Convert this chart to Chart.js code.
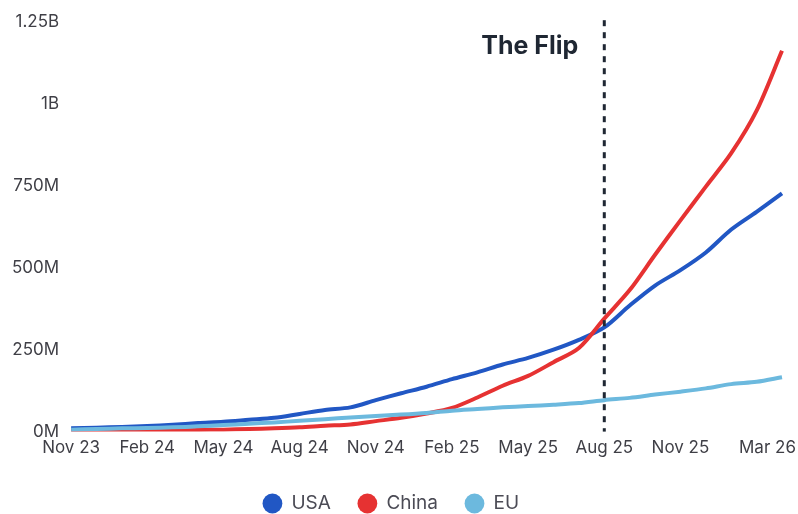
<!DOCTYPE html>
<html>
<head>
<meta charset="utf-8">
<script src="https://cdn.jsdelivr.net/npm/chart.js@4.4.1/dist/chart.umd.min.js"></script>
<style>
  html, body { margin: 0; padding: 0; background: #fff; }
  #wrap { width: 798px; height: 514px; position: relative; }
</style>
</head>
<body>
<div id="wrap"><canvas id="chart"></canvas></div>
<script>
// Meses (Nov 23 -> Mar 26)
const months = ['Nov 23', 'Dec 23', 'Jan 24', 'Feb 24', 'Mar 24', 'Apr 24', 'May 24', 'Jun 24',
  'Jul 24', 'Aug 24', 'Sep 24', 'Oct 24', 'Nov 24', 'Dec 24', 'Jan 25', 'Feb 25', 'Mar 25',
  'Apr 25', 'May 25', 'Jun 25', 'Jul 25', 'Aug 25', 'Sep 25', 'Oct 25', 'Nov 25', 'Dec 25',
  'Jan 26', 'Feb 26', 'Mar 26'];

// Valores em milhões
const usa = [10, 12, 14, 17, 21, 26, 30, 36, 42, 54, 66, 74, 96, 117, 137, 160, 181, 205, 225,
  250, 280, 318, 385, 446, 493, 547, 617, 671, 727];
const china = [2, 2, 3, 3, 4, 5, 6, 8, 10, 13, 18, 22, 32, 42, 55, 72, 104, 140, 170,
  212, 255, 345, 432, 540, 645, 748, 850, 980, 1163];
const eu = [6, 8, 10, 11, 13, 16, 20, 24, 28, 33, 38, 43, 48, 52, 57, 64, 69, 74, 78,
  82, 87, 96, 103, 113, 122, 132, 145, 152, 166];

const yTicks = [0, 250, 500, 750, 1000, 1250];
const flipMonth = 'Aug 25';
const flipLabel = 'The Flip';

// Linha tracejada "The Flip"
const flipMarker = {
  id: 'flipMarker',
  afterDatasetsDraw(chart) {
    const { ctx, chartArea, scales: { x } } = chart;
    const px = x.getPixelForValue(months.indexOf(flipMonth));
    ctx.save();
    ctx.strokeStyle = '#1f2733';
    ctx.lineWidth = 3;
    ctx.setLineDash([6, 6]);
    ctx.beginPath();
    ctx.moveTo(px, chartArea.top - 2);
    ctx.lineTo(px, chartArea.bottom);
    ctx.stroke();
    ctx.setLineDash([]);
    ctx.fillStyle = '#1f2733';
    ctx.font = 'bold 25px Inter';
    ctx.textAlign = 'right';
    ctx.textBaseline = 'alphabetic';
    ctx.fillText(flipLabel, px - 26, chartArea.top + 32);
    ctx.restore();
  }
};

// Último rótulo do eixo x alinhado à direita
const lastTickFit = {
  id: 'lastTickFit',
  beforeDraw(chart) {
    const items = chart.scales.x.getLabelItems();
    const last = items[items.length - 1];
    if (last && last.label === months[months.length - 1]) {
      last.options.textAlign = 'right';
      last.options.translation[0] = chart.width - 2;
    }
  }
};

const tickFont = { family: 'Inter', size: 17 };

const ctx = document.getElementById('chart').getContext('2d');
const myChart = new Chart(ctx, {
  type: 'line',
  data: {
    labels: months,
    datasets: [
      { label: 'USA', data: usa, borderColor: '#2157c4', backgroundColor: '#2157c4', order: 2 },
      { label: 'China', data: china, borderColor: '#e63232', backgroundColor: '#e63232', order: 1 },
      { label: 'EU', data: eu, borderColor: '#6cb9de', backgroundColor: '#6cb9de', order: 0 }
    ]
  },
  options: {
    responsive: true,
    maintainAspectRatio: false,
    animation: false,
    layout: { padding: { left: 0, right: 16, top: 12, bottom: -9 } },
    elements: {
      line: { borderWidth: 4, tension: 0.3 },
      point: { radius: 0 }
    },
    scales: {
      x: {
        grid: { display: false, drawTicks: false },
        border: { display: false },
        afterFit(scale) {
          scale.paddingRight = 0;
          scale.height += 3;
        },
        ticks: {
          autoSkip: false,
          maxRotation: 0,
          padding: 6,
          color: '#3f3f46',
          font: tickFont,
          callback(value, i) {
            if ((i % 3 === 0 && i < 27) || i === months.length - 1) return months[i];
            return null;
          }
        }
      },
      y: {
        min: 0,
        max: 1250,
        grid: { display: false, drawTicks: false },
        border: { display: false },
        afterBuildTicks(scale) { scale.ticks = yTicks.map(v => ({ value: v })); },
        ticks: {
          padding: 12,
          color: '#3f3f46',
          font: tickFont,
          callback(v) { return v >= 1000 ? (v / 1000) + 'B' : v + 'M'; }
        }
      }
    },
    plugins: {
      legend: {
        position: 'bottom',
        labels: {
          usePointStyle: true,
          pointStyle: 'circle',
          boxHeight: 14,
          padding: 27,
          color: '#4b4b55',
          font: { family: 'Inter', size: 19 },
          sort: (a, b) => a.datasetIndex - b.datasetIndex,
          generateLabels(chart) {
            return Chart.defaults.plugins.legend.labels.generateLabels(chart)
              .map(l => ({ ...l, lineWidth: 0 }));
          }
        }
      },
      tooltip: { enabled: false }
    }
  },
  plugins: [flipMarker, lastTickFit]
});
</script>
</body>
</html>
